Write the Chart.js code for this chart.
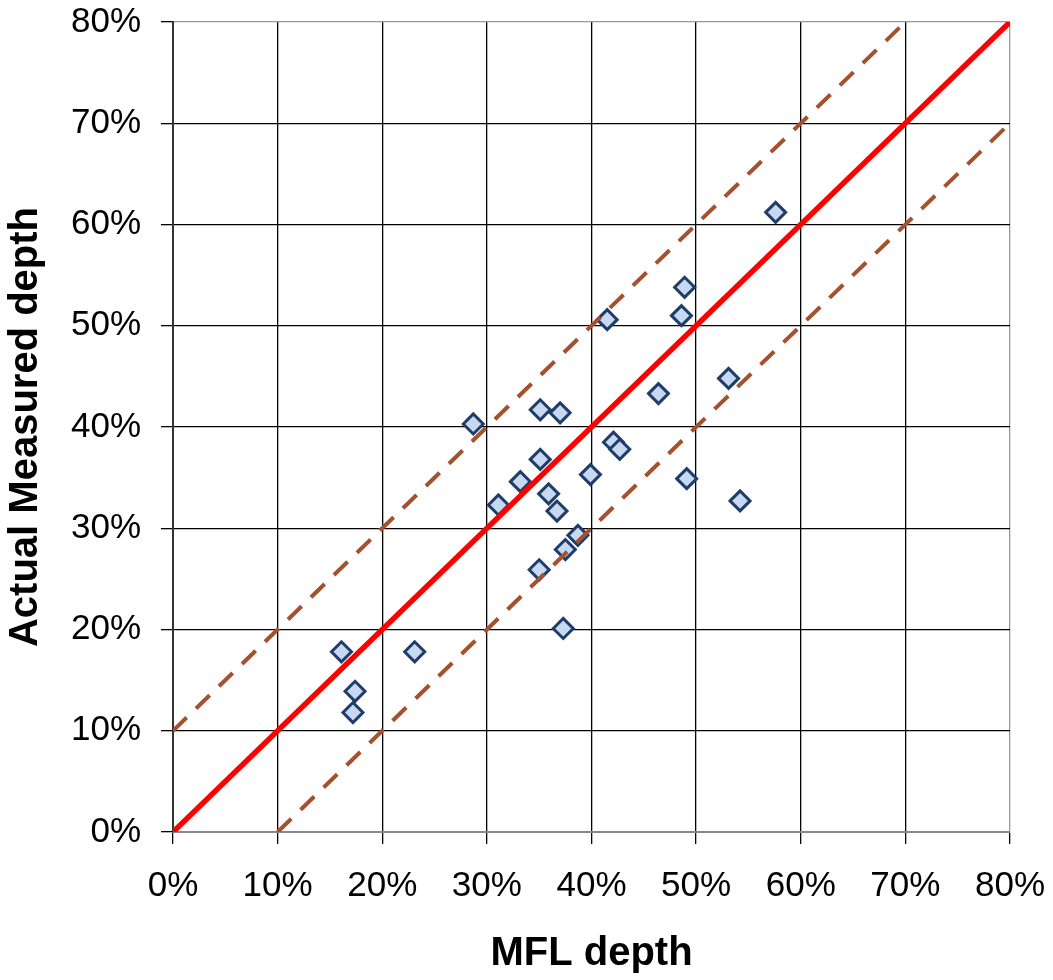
<!DOCTYPE html>
<html>
<head>
<meta charset="utf-8">
<script src="https://cdn.jsdelivr.net/npm/chart.js@4/dist/chart.umd.min.js"></script>
<style>
  html, body { margin: 0; padding: 0; background: #fff; }
  #wrap { width: 1053px; height: 980px; }
</style>
</head>
<body>
<div id="wrap"><canvas id="chart" width="1053" height="980"></canvas></div>
<script>
// MFL depth (x) vs actual measured depth (y), in percent
const mflDepth = [57.6, 48.9, 48.6, 41.5, 53.1, 46.4, 28.7, 35.1, 37.0, 42.1, 42.7, 35.1, 39.9, 49.1,
  33.2, 35.9, 31.1, 54.2, 36.7, 38.7, 37.5, 35.0, 37.3, 16.1, 23.1, 17.4, 17.2];
const measuredDepth = [61.2, 53.8, 51.0, 50.6, 44.8, 43.3, 40.3, 41.7, 41.4, 38.5, 37.8, 36.8, 35.3, 34.9,
  34.6, 33.4, 32.3, 32.7, 31.7, 29.3, 27.9, 25.9, 20.1, 17.8, 17.8, 13.9, 11.8];

// reference lines: 1:1 and +/-10%
const lineOneToOne = [[0, 0], [80, 80]];
const linePlus10 = [[0, 10], [70, 80]];
const lineMinus10 = [[10, 0], [80, 70]];

const axisMin = 0;
const axisMax = 80;
const axisStep = 10;

const toPts = (arr) => arr.map(([x, y]) => ({ x, y }));
const scatterPts = mflDepth.map((x, i) => ({ x, y: measuredDepth[i] }));

const tickFont = { family: "'Liberation Sans', Arial, sans-serif", size: 35 };
const titleFont = { family: "'Liberation Sans', Arial, sans-serif", size: 40, weight: "bold" };

// plot border (top/right) is grey in the original, inner grid is black
const gridColor = (ctx) => (ctx.tick && ctx.tick.value === axisMax ? "#999" : "#000");

// stop label overhang from pushing the plot area around
const noPad = (s) => {
  s.paddingTop = 0;
  s.paddingBottom = 0;
  s.paddingLeft = 0;
  s.paddingRight = 0;
};

const chart = new Chart(document.getElementById("chart"), {
  type: "scatter",
  data: {
    datasets: [
      {
        type: "line",
        data: toPts(lineOneToOne),
        borderColor: "#FF0000",
        borderWidth: 5.5,
        pointRadius: 0,
        order: 0,
      },
      {
        type: "line",
        data: toPts(linePlus10),
        borderColor: "#A5502E",
        borderWidth: 4,
        borderDash: [19, 13],
        pointRadius: 0,
        order: 0,
      },
      {
        type: "line",
        data: toPts(lineMinus10),
        borderColor: "#A5502E",
        borderWidth: 4,
        borderDash: [19, 13],
        pointRadius: 0,
        order: 0,
      },
      {
        data: scatterPts,
        pointStyle: "rectRot",
        pointRadius: 10,
        backgroundColor: "#C6D9F1",
        borderColor: "#1F3D68",
        borderWidth: 3,
        order: 1,
      },
    ],
  },
  options: {
    responsive: false,
    animation: false,
    layout: { padding: { left: 0, right: 43, top: 22, bottom: 0 } },
    plugins: { legend: { display: false }, tooltip: { enabled: false } },
    scales: {
      x: {
        type: "linear",
        min: axisMin,
        max: axisMax,
        ticks: { stepSize: axisStep, color: "#000", font: tickFont, padding: 21, callback: (v) => v + "%" },
        grid: { color: gridColor, lineWidth: 1.3, tickLength: 12, tickColor: "#000" },
        border: { color: "#888", width: 2 },
        title: { display: true, text: "MFL depth", color: "#000", font: titleFont, padding: { top: 10, bottom: 2 } },
        afterFit: (s) => { s.height = 148; noPad(s); },
      },
      y: {
        type: "linear",
        min: axisMin,
        max: axisMax,
        ticks: { stepSize: axisStep, color: "#000", font: tickFont, padding: 20, callback: (v) => v + "%" },
        grid: { color: gridColor, lineWidth: 1.3, tickLength: 12, tickColor: "#000" },
        border: { color: "#333", width: 2 },
        title: { display: true, text: "Actual Measured depth", color: "#000", font: titleFont, padding: { top: 2, bottom: 6 } },
        afterFit: (s) => { s.width = 173; noPad(s); },
      },
    },
  },
});
</script>
</body>
</html>
